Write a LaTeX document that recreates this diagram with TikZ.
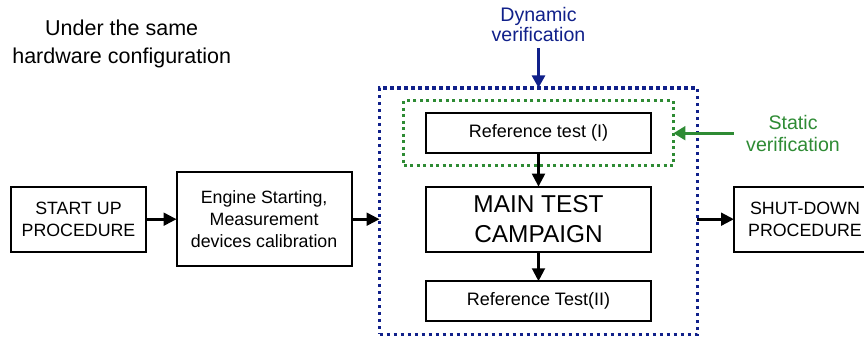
\documentclass[tikz,border=0pt]{standalone}
\usepackage{fontspec}
\setmainfont{Liberation Sans}
\usetikzlibrary{arrows.meta,positioning,fit}
\definecolor{dynblue}{HTML}{10208A}
\definecolor{statgreen}{HTML}{2E8B34}
\tikzset{
  box/.style={draw,line width=1pt,outer sep=0pt,align=center,inner sep=2pt,font=\fontsize{8.9}{11}\selectfont},
  rbox/.style={box,minimum width=112.5pt,font=\fontsize{9}{11}\selectfont},
  ar/.style={-{Triangle[length=6.5pt,width=6.3pt]},line width=1.5pt},
  bar/.style={-{Triangle[length=6.3pt,width=6.5pt]},line width=1.6pt,draw=dynblue},
  gar/.style={-{Triangle[length=6pt,width=6.8pt]},line width=1.5pt,draw=statgreen},
  dbox/.style={draw=dynblue,line width=1.75pt,outer sep=0pt,dash pattern=on 1.75pt off 1.75pt},
  sbox/.style={draw=statgreen,line width=1.45pt,outer sep=0pt,dash pattern=on 1.45pt off 1.8pt},
  note/.style={align=center,inner sep=0pt,font=\fontsize{9.8}{10.8}\selectfont},
}
\begin{document}
\begin{tikzpicture}[x=0.5pt,y=-0.5pt]
  \useasboundingbox (0,0) rectangle (864,342);
  % ---- process line
  \node[box,minimum width=67.5pt,minimum height=32.5pt] (st) at (78.5,219.2) {START UP\\PROCEDURE};
  \node[box,minimum width=87.5pt,minimum height=46.8pt,right=15.3pt of st] (eng)
       {Engine Starting,\\Measurement\\devices calibration};
  \node[rbox,minimum height=32.5pt,font=\fontsize{12.2}{15}\selectfont,right=37.2pt of eng] (mt)
       {MAIN TEST\\CAMPAIGN};
  \node[rbox,minimum height=20.3pt,above=16.6pt of mt] (r1) {Reference test (I)};
  \node[rbox,minimum height=20pt,below=14.8pt of mt] (r2) {Reference Test(II)};
  \node[box,minimum width=71pt,minimum height=32.5pt,right=41.5pt of mt] (sd) {SHUT-DOWN\\PROCEDURE};

  % ---- verification frames
  \node[sbox,fit=(r1),inner xsep=11.2pt,inner ysep=6pt] (sv) {};
  \node[dbox,fit=(sv)(r2),inner xsep=12pt,inner ysep=6.5pt] (dv) {};

  \draw[ar] (st) -- (eng);
  \draw[ar] (eng.east) -- (dv.west |- eng.east);
  \draw[ar] (r1) -- (mt);
  \draw[ar] (mt) -- (r2);
  \draw[ar] (dv.east |- sd.west) -- (sd);

  % ---- labels
  \node[note,font=\fontsize{10.75}{14}\selectfont] (hw) at (121.7,44) {Under the same\\hardware configuration};
  \node[note,text=dynblue,font=\fontsize{9.8}{9}\selectfont,above=22.8pt of dv] (dl) {Dynamic\\verification};
  \draw[bar,shorten <=2.8pt] (dl) -- (dv);
  \node[note,text=statgreen,right=36.2pt of sv] (sl) {Static\\verification};
  \draw[gar,shorten <=6pt] (sl) -- (sv);
\end{tikzpicture}
\end{document}
